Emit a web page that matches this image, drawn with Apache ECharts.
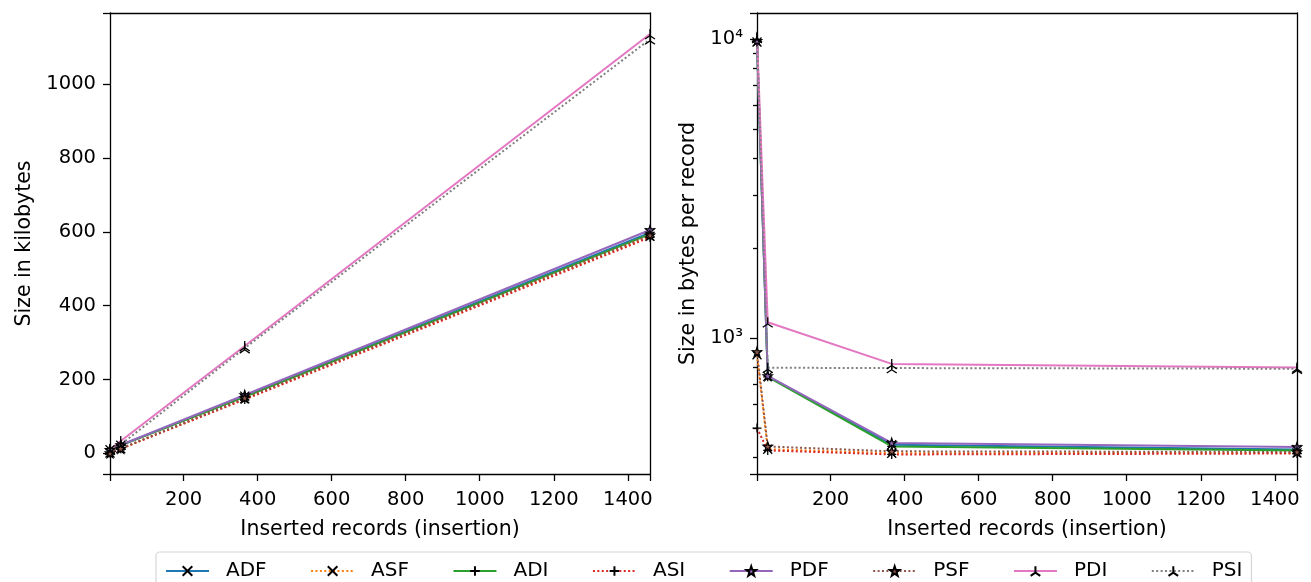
<!DOCTYPE html>
<html><head><meta charset="utf-8">
<script src="https://cdn.jsdelivr.net/npm/echarts@6/dist/echarts.min.js"></script>
<style>html,body{margin:0;padding:0;background:#fff}#c{width:1311px;height:582px}</style>
</head><body><div id="c"></div>
<script>
// ---- data ----
const records = [1, 30, 365, 1460];
const seriesNames = ['ADF', 'ASF', 'ADI', 'ASI', 'PDF', 'PSF', 'PDI', 'PSI'];

// left panel: size in kilobytes
const kb_ADF = [9.8, 22, 155, 598];
const kb_ASF = [0.9, 12.5, 148, 588];
const kb_ADI = [9.8, 22, 153, 594];
const kb_ASI = [0.5, 12.3, 146, 585];
const kb_PDF = [9.9, 22.5, 158, 605];
const kb_PSF = [0.9, 13, 150, 591];
const kb_PDI = [10.2, 33.5, 291, 1136];
const kb_PSI = [10.1, 24, 285, 1122];

// right panel: size in bytes per record
const bpr_ADF = [9800, 745, 440, 424];
const bpr_ASF = [880, 425, 412, 413];
const bpr_ADI = [9800, 742, 434, 421];
const bpr_ASI = [500, 421, 408, 411];
const bpr_PDF = [9900, 748, 446, 432];
const bpr_PSF = [900, 434, 418, 416];
const bpr_PDI = [10200, 1130, 820, 798];
const bpr_PSI = [10100, 796, 794, 790];

const xTicks = [200, 400, 600, 800, 1000, 1200, 1400];
const leftYTicks = [0, 200, 400, 600, 800, 1000];
const rightYMajor = [1000, 10000];
const rightYMajorLabels = ['10³', '10⁴'];
const TICK_STEP = 200;      // linear tick spacing on both x axes and the left y axis
const LOG_MINOR_SPLIT = 9;  // minor ticks 2..9 × 10^n on the log axis

const kbData = {ADF: kb_ADF, ASF: kb_ASF, ADI: kb_ADI, ASI: kb_ASI, PDF: kb_PDF, PSF: kb_PSF, PDI: kb_PDI, PSI: kb_PSI};
const bprData = {ADF: bpr_ADF, ASF: bpr_ASF, ADI: bpr_ADI, ASI: bpr_ASI, PDF: bpr_PDF, PSF: bpr_PSF, PDI: bpr_PDI, PSI: bpr_PSI};

// axis ranges
const X_MIN = 1, X_MAX = 1460;
const KB_MIN = -56, KB_MAX = 1193;
const BPR_MIN = 351, BPR_MAX = 12250;

// ---- styles ----
const SYM_X = 'path://M0,0L10,10M10,0L0,10';
const SYM_PLUS = 'path://M5,0L5,10M0,5L10,5';
const SYM_STAR = 'path://M5,0L6.18,3.38L9.76,3.45L6.9,5.62L7.94,9.05L5,7L2.06,9.05L3.1,5.62L0.24,3.45L3.82,3.38Z';
const SYM_TRI = 'path://M5,5L5,0M5,5L0.67,7.5M5,5L9.33,7.5';
const styles = {
  ADF: {color: '#1f77b4', dotted: false, symbol: SYM_X, fill: '#000'},
  ASF: {color: '#ff7f0e', dotted: true, symbol: SYM_X, fill: '#000'},
  ADI: {color: '#2ca02c', dotted: false, symbol: SYM_PLUS, fill: '#000'},
  ASI: {color: '#d62728', dotted: true, symbol: SYM_PLUS, fill: '#000'},
  PDF: {color: '#9467bd', dotted: false, symbol: SYM_STAR, fill: '#9467bd'},
  PSF: {color: '#8c564b', dotted: true, symbol: SYM_STAR, fill: '#8c564b'},
  PDI: {color: '#e377c2', dotted: false, symbol: SYM_TRI, fill: '#000'},
  PSI: {color: '#7f7f7f', dotted: true, symbol: SYM_TRI, fill: '#000'}
};

const FONT = 'DejaVu Sans';
const FS = 19.5;
const FS_NAME = 20.5;

function mkSeries(name, xi, yi, values) {
  const st = styles[name];
  return {
    name: name, type: 'line', xAxisIndex: xi, yAxisIndex: yi,
    data: records.map((x, i) => [x, values[i]]),
    symbol: st.symbol, symbolSize: st.symbol === SYM_TRI ? 10 : 9,
    showAllSymbol: true,
    lineStyle: {color: st.color, width: 2, type: st.dotted ? [2, 2.4] : 'solid'},
    itemStyle: {color: st.fill, borderColor: '#000', borderWidth: 1.3},
    emphasis: {disabled: true},
    animation: false
  };
}

const series = [];
seriesNames.forEach(n => series.push(mkSeries(n, 0, 0, kbData[n])));
seriesNames.forEach(n => series.push(mkSeries(n, 1, 2, bprData[n])));

const labelStyle = {fontSize: FS, color: '#000', fontFamily: FONT};
const nameStyle = {fontSize: FS_NAME, color: '#000', fontFamily: FONT};
const plain = v => String(v);
function LINE() { return {color: '#000', width: 1.3}; }

function frameAxis(type, gi, pos, extra) {
  return Object.assign({
    type: type, gridIndex: gi, position: pos,
    axisLine: {show: true, onZero: false, lineStyle: LINE()},
    axisTick: {show: false}, axisLabel: {show: false}, splitLine: {show: false}
  }, extra);
}

function xAxisMain(gi) {
  return {
    type: 'value', gridIndex: gi, min: X_MIN, max: X_MAX, position: 'bottom',
    minInterval: TICK_STEP, maxInterval: TICK_STEP,
    axisLine: {show: true, onZero: false, lineStyle: LINE()}, splitLine: {show: false},
    axisTick: {show: true, length: 7, lineStyle: LINE()},
    axisLabel: {show: true, customValues: xTicks, margin: 16, formatter: plain, ...labelStyle},
    name: 'Inserted records (insertion)', nameLocation: 'middle', nameGap: 45, nameTextStyle: nameStyle
  };
}

const option = {
  animation: false,
  backgroundColor: '#fff',
  textStyle: {fontFamily: FONT},
  grid: [
    {left: 110, top: 13, width: 540, height: 461, show: false},
    {left: 757, top: 13, width: 540, height: 461, show: false}
  ],
  legend: {
    data: seriesNames,
    left: 156, top: 552,
    orient: 'horizontal',
    itemWidth: 43, itemHeight: 12, itemGap: 43.5,
    padding: [9, 9, 9, 9],
    borderColor: '#d6d6d6', borderWidth: 1.2, borderRadius: 4,
    textStyle: {fontSize: 20, color: '#000', fontFamily: FONT, padding: [0, 0, 0, 12]},
    selectedMode: false
  },
  xAxis: [
    xAxisMain(0),
    xAxisMain(1),
    frameAxis('value', 0, 'top', {min: X_MIN, max: X_MAX}),
    frameAxis('value', 1, 'top', {min: X_MIN, max: X_MAX})
  ],
  yAxis: [
    {
      type: 'value', gridIndex: 0, min: KB_MIN, max: KB_MAX, position: 'left',
      minInterval: TICK_STEP, maxInterval: TICK_STEP,
      axisLine: {show: true, onZero: false, lineStyle: LINE()}, splitLine: {show: false},
      axisTick: {show: true, length: 7, lineStyle: LINE()},
      axisLabel: {show: true, customValues: leftYTicks, margin: 14, formatter: plain, ...labelStyle},
      name: 'Size in kilobytes', nameLocation: 'middle', nameGap: 75, nameRotate: 90, nameTextStyle: nameStyle
    },
    frameAxis('value', 0, 'right', {min: KB_MIN, max: KB_MAX}),
    {
      type: 'log', logBase: 10, gridIndex: 1, min: BPR_MIN, max: BPR_MAX, position: 'left',
      axisLine: {show: true, onZero: false, lineStyle: LINE()}, splitLine: {show: false},
      axisTick: {show: true, length: 7, lineStyle: LINE()},
      minorTick: {show: true, splitNumber: LOG_MINOR_SPLIT, length: 4, lineStyle: LINE()},
      minorSplitLine: {show: false},
      axisLabel: {
        show: true, customValues: rightYMajor, margin: 14, ...labelStyle,
        formatter: function (v) {
          const i = rightYMajor.findIndex(t => Math.abs(t - v) / t < 1e-6);
          return i >= 0 ? rightYMajorLabels[i] : '';
        }
      },
      name: 'Size in bytes per record', nameLocation: 'middle', nameGap: 58, nameRotate: 90, nameTextStyle: nameStyle
    },
    frameAxis('log', 1, 'right', {min: BPR_MIN, max: BPR_MAX, logBase: 10})
  ],
  series: series
};

const chart = echarts.init(document.getElementById('c'), null, {renderer: 'canvas'});
chart.setOption(option);
</script>
</body></html>
